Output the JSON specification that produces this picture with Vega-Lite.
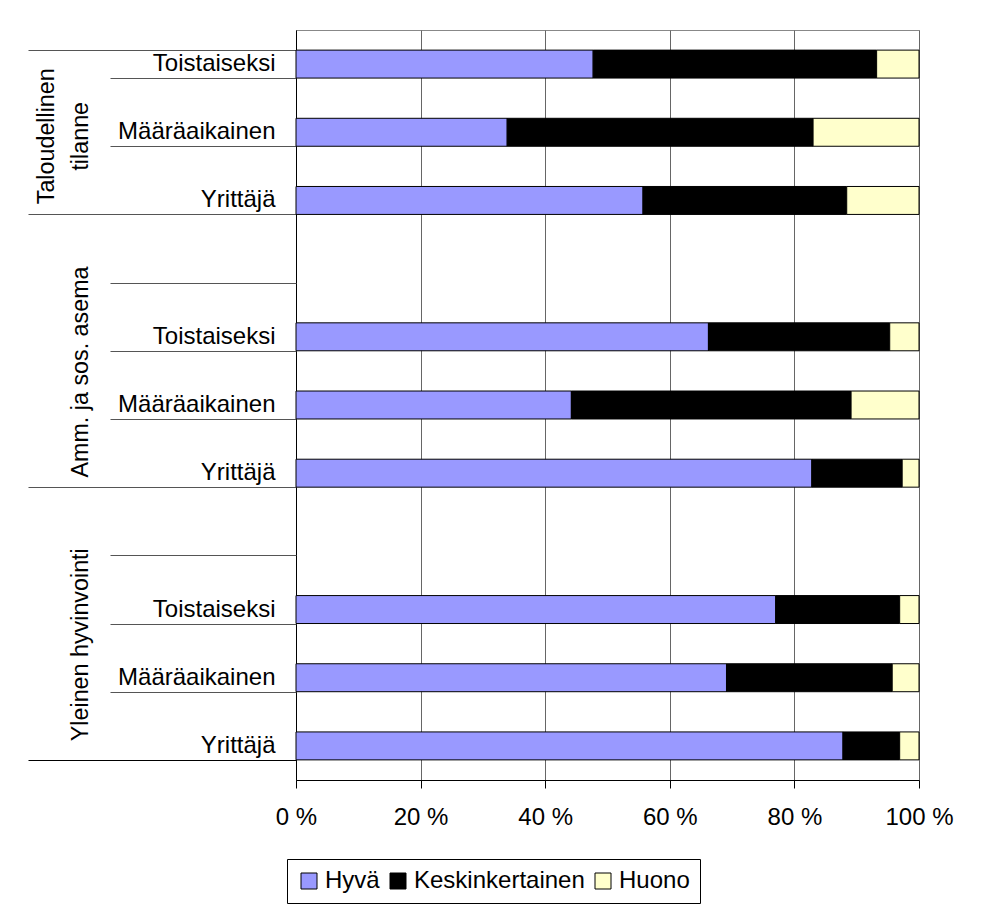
{
  "$schema": "https://vega.github.io/schema/vega-lite/v6.json",
  "width": 623,
  "height": 750,
  "autosize": {"type": "none"},
  "padding": {"left": 296, "top": 30, "right": 63, "bottom": 127},
  "background": "white",
  "config": {
    "font": "Liberation Sans",
    "view": {"stroke": "#888888", "strokeWidth": 1},
    "axis": {"labelFont": "Liberation Sans", "labelColor": "black", "title": null}
  },
  "data": {
    "values": [
      {"rivi": "Taloudellinen tilanne|Toistaiseksi", "arvio": "Hyvä", "osuus": 47.7},
      {"rivi": "Taloudellinen tilanne|Toistaiseksi", "arvio": "Keskinkertainen", "osuus": 45.5},
      {"rivi": "Taloudellinen tilanne|Toistaiseksi", "arvio": "Huono", "osuus": 6.8},
      {"rivi": "Taloudellinen tilanne|Määräaikainen", "arvio": "Hyvä", "osuus": 33.9},
      {"rivi": "Taloudellinen tilanne|Määräaikainen", "arvio": "Keskinkertainen", "osuus": 49.1},
      {"rivi": "Taloudellinen tilanne|Määräaikainen", "arvio": "Huono", "osuus": 17.0},
      {"rivi": "Taloudellinen tilanne|Yrittäjä", "arvio": "Hyvä", "osuus": 55.7},
      {"rivi": "Taloudellinen tilanne|Yrittäjä", "arvio": "Keskinkertainen", "osuus": 32.7},
      {"rivi": "Taloudellinen tilanne|Yrittäjä", "arvio": "Huono", "osuus": 11.6},
      {"rivi": "Amm. ja sos. asema|Toistaiseksi", "arvio": "Hyvä", "osuus": 66.2},
      {"rivi": "Amm. ja sos. asema|Toistaiseksi", "arvio": "Keskinkertainen", "osuus": 29.1},
      {"rivi": "Amm. ja sos. asema|Toistaiseksi", "arvio": "Huono", "osuus": 4.7},
      {"rivi": "Amm. ja sos. asema|Määräaikainen", "arvio": "Hyvä", "osuus": 44.2},
      {"rivi": "Amm. ja sos. asema|Määräaikainen", "arvio": "Keskinkertainen", "osuus": 44.9},
      {"rivi": "Amm. ja sos. asema|Määräaikainen", "arvio": "Huono", "osuus": 10.9},
      {"rivi": "Amm. ja sos. asema|Yrittäjä", "arvio": "Hyvä", "osuus": 82.8},
      {"rivi": "Amm. ja sos. asema|Yrittäjä", "arvio": "Keskinkertainen", "osuus": 14.5},
      {"rivi": "Amm. ja sos. asema|Yrittäjä", "arvio": "Huono", "osuus": 2.7},
      {"rivi": "Yleinen hyvinvointi|Toistaiseksi", "arvio": "Hyvä", "osuus": 77.0},
      {"rivi": "Yleinen hyvinvointi|Toistaiseksi", "arvio": "Keskinkertainen", "osuus": 19.9},
      {"rivi": "Yleinen hyvinvointi|Toistaiseksi", "arvio": "Huono", "osuus": 3.1},
      {"rivi": "Yleinen hyvinvointi|Määräaikainen", "arvio": "Hyvä", "osuus": 69.1},
      {"rivi": "Yleinen hyvinvointi|Määräaikainen", "arvio": "Keskinkertainen", "osuus": 26.6},
      {"rivi": "Yleinen hyvinvointi|Määräaikainen", "arvio": "Huono", "osuus": 4.3},
      {"rivi": "Yleinen hyvinvointi|Yrittäjä", "arvio": "Hyvä", "osuus": 87.8},
      {"rivi": "Yleinen hyvinvointi|Yrittäjä", "arvio": "Keskinkertainen", "osuus": 9.1},
      {"rivi": "Yleinen hyvinvointi|Yrittäjä", "arvio": "Huono", "osuus": 3.1}
    ]
  },
  "resolve": {"axis": {"y": "independent"}},
  "layer": [
    {
      "transform": [
        {"calculate": "indexof(['Hyvä', 'Keskinkertainen', 'Huono'], datum.arvio)", "as": "pinojarjestys"}
      ],
      "mark": {"type": "bar", "stroke": "black", "strokeWidth": 1},
      "encoding": {
        "y": {
          "field": "rivi",
          "type": "nominal",
          "scale": {
            "domain": [
              "Taloudellinen tilanne|Toistaiseksi", "Taloudellinen tilanne|Määräaikainen", "Taloudellinen tilanne|Yrittäjä",
              "Amm. ja sos. asema|", "Amm. ja sos. asema|Toistaiseksi", "Amm. ja sos. asema|Määräaikainen", "Amm. ja sos. asema|Yrittäjä",
              "Yleinen hyvinvointi|", "Yleinen hyvinvointi|Toistaiseksi", "Yleinen hyvinvointi|Määräaikainen", "Yleinen hyvinvointi|Yrittäjä"
            ],
            "paddingInner": 0.59,
            "paddingOuter": 0.295
          },
          "axis": {
            "orient": "left",
            "ticks": false,
            "tickSize": 0,
            "domain": true,
            "domainColor": "black",
            "grid": false,
            "labelExpr": "split(datum.label, '|')[1]",
            "labelFontSize": 24,
            "labelPadding": 21,
            "labelAlign": "right",
            "labelBaseline": "middle",
            "labelLimit": 0,
            "labelOverlap": false
          }
        },
        "x": {
          "field": "osuus",
          "type": "quantitative",
          "stack": "zero",
          "scale": {"domain": [0, 100], "nice": false},
          "axis": {
            "values": [0, 20, 40, 60, 80, 100],
            "labelExpr": "datum.value + ' %'",
            "labelFontSize": 24,
            "labelPadding": 17,
            "labelFlush": false,
            "labelOverlap": false,
            "domainColor": "black",
            "tickColor": "black",
            "tickSize": 8,
            "grid": true,
            "gridColor": "#666666",
            "gridWidth": 1
          }
        },
        "order": {"field": "pinojarjestys", "type": "quantitative", "sort": "ascending"},
        "color": {
          "field": "arvio",
          "type": "nominal",
          "sort": ["Hyvä", "Keskinkertainen", "Huono"],
          "scale": {"domain": ["Hyvä", "Keskinkertainen", "Huono"], "range": ["#9999FF", "#000000", "#FFFFCC"]},
          "legend": {
            "title": null,
            "orient": "none",
            "direction": "horizontal",
            "legendX": -9,
            "legendY": 829,
            "padding": 10,
            "strokeColor": "black",
            "fillColor": "white",
            "symbolType": "square",
            "symbolSize": 256,
            "symbolStrokeColor": "black",
            "symbolStrokeWidth": 1,
            "symbolOpacity": 1,
            "labelFont": "Liberation Sans",
            "labelFontSize": 24,
            "labelColor": "black",
            "labelLimit": 0,
            "labelOffset": 4,
            "columnPadding": 6
          }
        }
      }
    },
    {
      "mark": {"type": "point", "opacity": 0},
      "encoding": {
        "y": {
          "field": "rivi",
          "type": "nominal",
          "axis": {
            "orient": "left",
            "labels": false,
            "domain": false,
            "grid": false,
            "ticks": true,
            "tickBand": "extent",
            "tickWidth": 1,
            "tickColor": {"condition": {"test": "datum.value === 'Yleinen hyvinvointi|Yrittäjä'", "value": "black"}, "value": "#555555"},
            "tickSize": {"condition": {"test": "datum.extra || indexof(datum.value, 'Yrittäjä') >= 0", "value": 268}, "value": 186}
          }
        }
      }
    },
    {
      "mark": {"type": "point", "opacity": 0},
      "encoding": {
        "y": {
          "field": "rivi",
          "type": "nominal",
          "axis": {
            "orient": "left",
            "values": ["Taloudellinen tilanne|Määräaikainen", "Amm. ja sos. asema|Määräaikainen", "Yleinen hyvinvointi|Määräaikainen"],
            "labelExpr": "datum.value === 'Taloudellinen tilanne|Määräaikainen' ? ['Taloudellinen', 'tilanne'] : ['', split(datum.value, '|')[0]]",
            "labelAngle": -90,
            "labelAlign": "center",
            "labelBaseline": "bottom",
            "labelFontSize": 23.3,
            "labelLineHeight": 34,
            "labelPadding": 238,
            "labelLimit": 0,
            "labelOffset": {"condition": {"test": "datum.value === 'Taloudellinen tilanne|Määräaikainen'", "value": 4}, "value": -33},
            "labelOverlap": false,
            "ticks": false,
            "domain": false,
            "grid": false
          }
        }
      }
    }
  ]
}
